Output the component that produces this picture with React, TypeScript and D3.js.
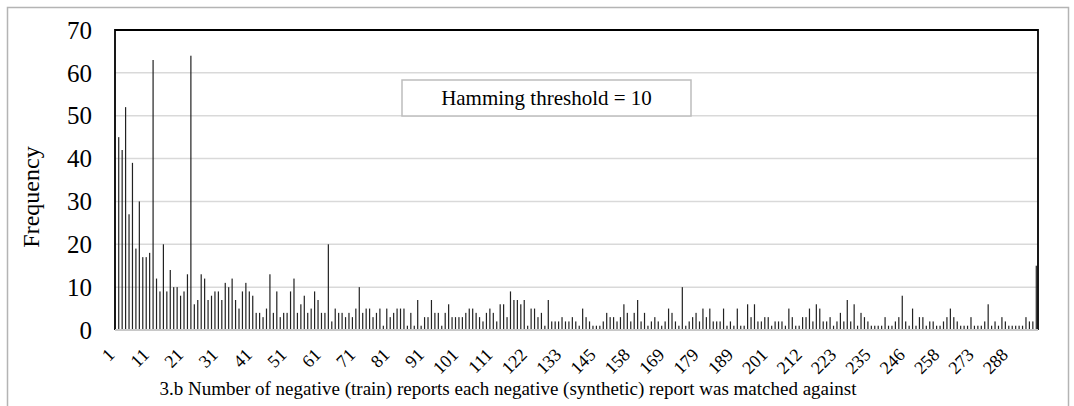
import React from 'react';
import { scaleBand, scaleLinear, range } from 'd3';

// frequency per category, read left to right off the figure
const frequency = [
	45, 42, 52, 27, 39, 19, 30, 17, 17, 18, 63, 12, 9, 20, 9, 14, 10, 10, 8, 9, 13, 64, 6, 7, 13, 12, 7, 8, 9, 9, 7, 11, 10,
	12, 7, 5, 9, 11, 9, 8, 4, 4, 3, 5, 13,
	4, 9, 3, 4, 4, 9, 12, 4, 6, 8, 4, 5, 9, 7, 4, 4, 20, 2, 5, 4, 4, 3, 4, 3, 5, 10, 4, 5, 5, 3, 4, 5, 1, 5, 3, 4, 5, 5, 5,
	1, 4, 1, 7, 1, 3,
	3, 7, 4, 4, 1, 4, 6, 3, 3, 3, 3, 4, 5, 5, 4, 3, 2, 4, 5, 4, 2, 6, 6, 3, 9, 7, 7, 6, 7, 1, 5, 5, 3, 4, 1, 7, 2, 2, 2, 3,
	2, 2, 3, 2, 1, 5,
	3, 2, 1, 1, 1, 2, 4, 3, 3, 2, 3, 6, 4, 2, 4, 7, 2, 4, 1, 2, 3, 2, 1, 2, 5, 4, 2, 1, 10, 1, 2, 3, 4, 2, 5, 3, 5, 2, 2, 2,
	5, 1, 2, 1, 5, 1,
	1, 6, 3, 6, 2, 2, 3, 3, 1, 2, 2, 2, 1, 5, 3, 1, 1, 3, 3, 5, 2, 6, 5, 2, 2, 3, 1, 2, 4, 2, 7, 2, 6, 1, 4, 3, 2, 1, 1, 1,
	1, 3, 1, 1, 2,
	3, 8, 2, 1, 5, 1, 3, 3, 1, 2, 2, 1, 1, 2, 3, 5, 3, 2, 1, 1, 1, 3, 1, 1, 1, 2, 6, 1, 2, 1, 3, 2, 1, 1, 1, 1, 1, 3, 2, 2,
	15,
];

// Excel shows every 10th category label
const tickLabels = [
	'1', '11', '21', '31', '41', '51', '61', '71', '81', '91', '101', '111', '122', '133', '145', '158', '169', '179',
	'189', '201', '212', '223', '235', '246', '258', '273', '288',
];
const tickEvery = 10;

const yTicks = [0, 10, 20, 30, 40, 50, 60, 70];

const annotation = 'Hamming threshold = 10';
const xTitle = '3.b Number of negative (train) reports each negative (synthetic) report was matched against';
const yTitle = 'Frequency';

const W = 1074;
const H = 406;
const left = 115;
const right = 1038;
const top = 30;
const bottom = 330;
const font = '"Liberation Serif", "Times New Roman", serif';

export default function App() {
	const x = scaleBand<number>()
		.domain(range(frequency.length))
		.range([left + 2, right])
		.paddingInner(0);
	const y = scaleLinear().domain([0, 70]).range([bottom, top]);
	const bw = 1.2;

	return (
		<svg width={W} height={H} style={{ position: 'absolute', left: 0, top: 0, background: '#fff' }}>
			{/* outer chart frame */}
			<rect x={7.5} y={7.5} width={1061} height={420} fill="none" stroke="#b4b4b4" strokeWidth={1.5} />

			{/* gridlines */}
			{yTicks
				.filter((t) => t > 0 && t < 70)
				.map((t) => (
					<line key={t} x1={left} x2={right} y1={y(t)} y2={y(t)} stroke="#d9d9d9" strokeWidth={1.5} />
				))}

			{/* bars */}
			{frequency.map((v, i) => (
				<rect
					key={i}
					x={(x(i) as number) + x.bandwidth() / 2 - bw / 2}
					y={y(v)}
					width={bw}
					height={bottom - y(v)}
					fill="#222"
				/>
			))}

			{/* plot area border */}
			<path
				d={`M${left},${bottom} V${top} H${right} V${bottom}`}
				fill="none"
				stroke="#000"
				strokeWidth={1.8}
			/>
			<line x1={left} x2={right} y1={bottom} y2={bottom} stroke="#c8c8c8" strokeWidth={2} />

			{/* y axis labels */}
			{yTicks.map((t) => (
				<text
					key={t}
					x={92}
					y={y(t)}
					dy="0.35em"
					textAnchor="end"
					fontFamily={font}
					fontSize={25}
					fill="#000">
					{t}
				</text>
			))}
			<text
				transform={`translate(39, 197) rotate(-90)`}
				textAnchor="middle"
				fontFamily={font}
				fontSize={24}
				fill="#000">
				{yTitle}
			</text>

			{/* x axis labels */}
			{tickLabels.map((lab, k) => {
				const cx = (x(k * tickEvery) as number) + x.bandwidth() / 2;
				return (
					<text
						key={lab}
						transform={`translate(${cx - 3}, 356) rotate(-45)`}
						textAnchor="end"
						fontFamily={font}
						fontSize={18}
						fill="#000">
						{lab}
					</text>
				);
			})}
			<text x={508} y={395} textAnchor="middle" fontFamily={font} fontSize={19} fill="#000">
				{xTitle}
			</text>

			{/* annotation box */}
			<rect x={402} y={80} width={289} height={36} fill="#fff" stroke="#bdbdbd" strokeWidth={1.5} />
			<text x={546.5} y={105} textAnchor="middle" fontFamily={font} fontSize={21} fill="#000">
				{annotation}
			</text>
		</svg>
	);
}
